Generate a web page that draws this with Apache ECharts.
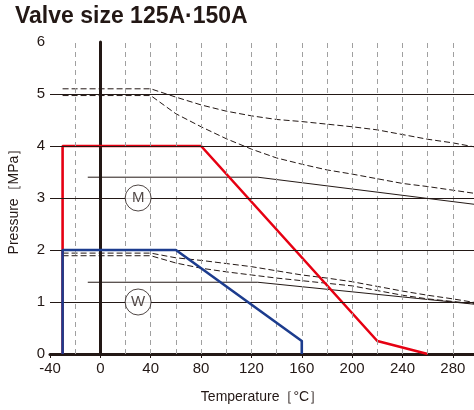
<!DOCTYPE html>
<html><head><meta charset="utf-8">
<script src="https://cdn.jsdelivr.net/npm/echarts@6/dist/echarts.min.js"></script>
<style>html,body{margin:0;padding:0;background:#fff}#c{width:474px;height:410px}</style>
</head><body><div id="c"></div>
<script>
var titleText = 'Valve size 125A·150A';
var xTickLabels = [-40, 0, 40, 80, 120, 160, 200, 240, 280];
var yTickLabels = [0, 1, 2, 3, 4, 5, 6];
var gridX = [-20, 20, 40, 60, 80, 100, 120, 140, 160, 180, 200, 220, 240, 260, 280];
var gridY = [1, 2, 3, 4, 5];
var zeroLine = [[0, 0], [0, 6]];
var redLine = [[-30, 0], [-30, 4], [80, 4], [220, 0.25], [260, 0]];
var blueLine = [[-30, 0], [-30, 2], [60, 2], [160, 0.25], [160, 0]];
var mSolid = [[-10, 3.4], [125, 3.4], [300, 2.87]];
var wSolid = [[-10, 1.38], [125, 1.38], [300, 0.95]];
var dashX = [-30, 40, 60, 80, 100, 120, 140, 160, 180, 200, 220, 240, 260, 280, 300];
var mUpper = [5.1, 5.1, 4.94, 4.79, 4.67, 4.58, 4.51, 4.47, 4.42, 4.37, 4.31, 4.22, 4.13, 4.06, 3.97];
var mLower = [4.97, 4.97, 4.62, 4.37, 4.14, 3.94, 3.77, 3.65, 3.54, 3.46, 3.37, 3.28, 3.22, 3.15, 3.08];
var wUpper = [1.94, 1.94, 1.85, 1.80, 1.74, 1.68, 1.60, 1.52, 1.46, 1.39, 1.30, 1.21, 1.13, 1.06, 0.98];
var wLower = [1.89, 1.89, 1.75, 1.65, 1.58, 1.52, 1.46, 1.41, 1.36, 1.31, 1.22, 1.13, 1.06, 1.01, 0.96];
var circleLabels = [{name: 'M', value: [30, 3]}, {name: 'W', value: [30, 1]}];

function pair(xs, ys) { return xs.map(function (x, i) { return [x, ys[i]]; }); }
var ink = '#231815';
var font = 'Liberation Sans, Arial, Helvetica, sans-serif';

function dashed(data) {
  return {type: 'line', data: data, symbol: 'none', silent: true, z: 3, clip: true,
    lineStyle: {color: ink, width: 1, type: [6, 3]}};
}

var chart = echarts.init(document.getElementById('c'));
chart.setOption({
  animation: false,
  backgroundColor: '#fff',
  title: {text: titleText, left: 10, top: 0,
    textStyle: {fontFamily: font, fontSize: 23, fontWeight: 'bold', color: ink}},
  grid: {left: 50, top: 42, bottom: 56, right: 0, outerBoundsMode: 'none', containLabel: false},
  xAxis: {type: 'value', min: -40, max: 296.8, interval: 40,
    name: 'Temperature［°C］', nameLocation: 'middle', nameGap: 36,
    nameTextStyle: {fontFamily: font, fontSize: 14, color: ink},
    axisLine: {show: true, onZero: false, lineStyle: {color: ink, width: 3}},
    axisTick: {show: true, length: 4, lineStyle: {color: ink, width: 1}},
    axisLabel: {fontFamily: font, fontSize: 15, color: ink, margin: 7, showMaxLabel: false,
      formatter: function (v) { return xTickLabels.indexOf(v) >= 0 ? String(v) : ''; }},
    splitLine: {show: false}},
  yAxis: {type: 'value', min: 0, max: 6, interval: 1,
    name: 'Pressure［MPa］', nameLocation: 'middle', nameGap: 29,
    nameTextStyle: {fontFamily: font, fontSize: 14, color: ink},
    axisLine: {show: true, lineStyle: {color: ink, width: 3}},
    axisTick: {show: false},
    axisLabel: {fontFamily: font, fontSize: 15, color: ink, margin: 5,
      formatter: function (v) { return yTickLabels.indexOf(v) >= 0 ? String(v) : ''; }},
    splitLine: {show: false}},
  series: [
    {type: 'line', data: [], silent: true, z: 1,
      markLine: {silent: true, symbol: 'none', label: {show: false}, animation: false,
        lineStyle: {color: '#a0a0a0', width: 1, type: [5, 4]},
        data: gridX.map(function (x) { return {xAxis: x}; })}},
    {type: 'line', data: [], silent: true, z: 2,
      markLine: {silent: true, symbol: 'none', label: {show: false}, animation: false,
        lineStyle: {color: ink, width: 1, type: 'solid'},
        data: gridY.map(function (y) { return {yAxis: y}; })}},
    {type: 'line', data: zeroLine, symbol: 'none', silent: true, z: 3,
      lineStyle: {color: ink, width: 2.5}},
    dashed(pair(dashX, mUpper)),
    dashed(pair(dashX, mLower)),
    dashed(pair(dashX, wUpper)),
    dashed(pair(dashX, wLower)),
    {type: 'line', data: mSolid, symbol: 'none', silent: true, z: 3, clip: true, lineStyle: {color: ink, width: 1}},
    {type: 'line', data: wSolid, symbol: 'none', silent: true, z: 3, clip: true, lineStyle: {color: ink, width: 1}},
    {type: 'line', data: redLine, symbol: 'none', silent: true, z: 4, lineStyle: {color: '#e60012', width: 2.6}},
    {type: 'line', data: blueLine, symbol: 'none', silent: true, z: 5, lineStyle: {color: '#1c3c8e', width: 2.6}},
    {type: 'scatter', data: circleLabels, symbol: 'circle', symbolSize: 26, silent: true, z: 6,
      itemStyle: {color: '#fff', borderColor: ink, borderWidth: 1},
      label: {show: true, position: 'inside', formatter: '{b}', fontFamily: font, fontSize: 15, color: ink}}
  ]
});
</script></body></html>
